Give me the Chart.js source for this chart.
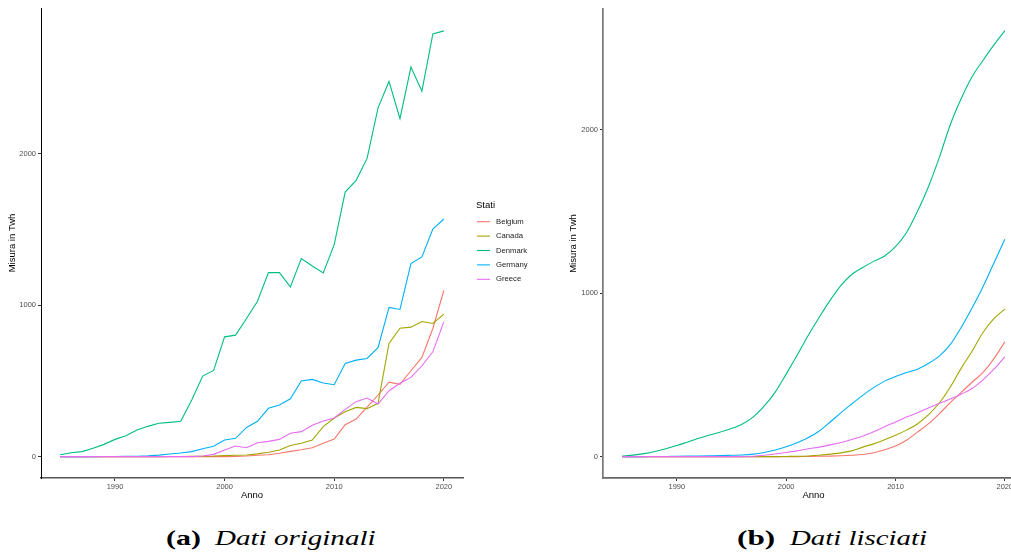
<!DOCTYPE html>
<html>
<head>
<meta charset="utf-8">
<script src="https://cdn.jsdelivr.net/npm/chart.js@4.4.1/dist/chart.umd.min.js"></script>
<style>
  html, body { margin: 0; padding: 0; background: #fff; width: 1011px; height: 556px; overflow: hidden; }
  #sinistra { position: absolute; left: 0; top: 0; }
  #destra { position: absolute; left: 540px; top: 0; }
  .cap { position: absolute; top: 527px; font-family: "Liberation Serif", "DejaVu Serif", serif; font-size: 22px; line-height: 22px;
         color: #000; white-space: nowrap; transform-origin: left top; }
  .cap.b { font-weight: bold; }
  .cap.i { font-style: italic; }
</style>
</head>
<body>
<canvas id="sinistra" width="540" height="510"></canvas>
<canvas id="destra" width="490" height="510"></canvas>

<span class="cap b" style="left:166px; transform:scaleX(1.36)">(a)</span>
<span class="cap i" style="left:215px; transform:scaleX(1.32)">Dati originali</span>
<span class="cap b" style="left:737px; transform:scaleX(1.42)">(b)</span>
<span class="cap i" style="left:790px; transform:scaleX(1.31)">Dati lisciati</span>

<script>
const anni = [1985, 1986, 1987, 1988, 1989, 1990, 1991, 1992, 1993, 1994, 1995, 1996,
  1997, 1998, 1999, 2000, 2001, 2002, 2003, 2004, 2005, 2006, 2007, 2008,
  2009, 2010, 2011, 2012, 2013, 2014, 2015, 2016, 2017, 2018, 2019, 2020];
const stati = ["Belgium", "Canada", "Denmark", "Germany", "Greece"];
const xTicks = [1990, 2000, 2010, 2020];
const yTicks = [0, 1000, 2000];

// dati originali (TWh)
const belgioOrig = [0, 0, 0, 0, 0, 0, 0, 0, 0, 0, 0, 0, 0, 0, 0, 0, 1, 4, 9, 13, 22, 35, 46, 59,
  88, 116, 211, 248, 327, 407, 492, 477, 567, 655, 846, 1097];
const canadaOrig = [0, 0, 0, 0, 0, 0, 0, 0, 0, 0, 1, 1, 2, 3, 4, 7, 9, 11, 18, 29, 44, 73, 88, 110,
  198, 255, 297, 325, 317, 352, 747, 848, 855, 892, 879, 941];
const danimarcaOrig = [13, 26, 33, 55, 81, 114, 138, 176, 200, 220, 226, 233, 374, 532, 569, 791, 802, 912,
  1026, 1215, 1215, 1121, 1308, 1259, 1213, 1400, 1747, 1824, 1969, 2303, 2477, 2231, 2572, 2413, 2791, 2811];
const germaniaOrig = [0, 0, 0, 0, 1, 1, 2, 3, 5, 10, 17, 24, 33, 52, 68, 110, 121, 193, 233, 319, 341, 382,
  499, 510, 486, 475, 615, 637, 648, 719, 985, 972, 1275, 1319, 1503, 1569];
const greciaOrig = [0, 0, 0, 0, 0, 0, 0, 0, 0, 0, 0, 0, 0, 4, 15, 44, 70, 59, 92, 101, 114, 154, 165, 207,
  235, 255, 312, 363, 387, 347, 435, 484, 523, 600, 692, 890];

// dati lisciati (TWh)
const belgioLiscio = [0, 0, 0, 0, 0, 0, 0, 0, 0, 0, 0, 0, 0, 0, 0, 0, 0, 1, 2, 3, 5, 8, 13, 24,
  42, 65, 100, 150, 200, 262, 330, 392, 455, 515, 600, 702];
const canadaLiscio = [0, 0, 0, 0, 0, 0, 0, 0, 0, 0, 0, 0, 0, 0, 0, 1, 2, 4, 8, 15, 23, 35, 58, 78,
  103, 130, 162, 200, 255, 328, 425, 540, 645, 760, 845, 903];
const danimarcaLiscio = [3, 9, 18, 31, 48, 68, 90, 112, 132, 151, 172, 200, 243, 310, 395, 505, 620, 740,
  850, 955, 1047, 1115, 1157, 1195, 1228, 1285, 1370, 1500, 1650, 1830, 2030, 2190, 2325, 2425, 2520, 2608];
const germaniaLiscio = [0, 0, 0, 1, 1, 2, 3, 4, 5, 6, 8, 10, 15, 25, 40, 60, 85, 115, 155, 210, 268, 322,
  375, 422, 462, 490, 515, 535, 570, 615, 685, 790, 910, 1040, 1185, 1330];
const greciaLiscio = [0, 0, 0, 0, 0, 0, 0, 0, 0, 0, 0, 0, 2, 8, 16, 25, 35, 48, 58, 72, 86, 105, 125, 152,
  183, 212, 242, 268, 298, 325, 352, 382, 417, 470, 535, 610];

const colori = ["#F8766D", "#A3A500", "#00BF7D", "#00B0F6", "#E76BF3"];
const font = "Liberation Sans";

function serie(valori, liscio) {
  return valori.map((v, i) => ({
    label: stati[i],
    data: anni.map((a, k) => ({ x: a, y: v[k] })),
    borderColor: colori[i],
    borderWidth: 1.1,
    pointRadius: 0,
    fill: false,
    order: stati.length - i,
    tension: liscio ? 0.4 : 0,
    cubicInterpolationMode: liscio ? "monotone" : "default"
  }));
}

function assi(yMin, yMax, larghezzaY, padTitoloY, bordoX, bordoY) {
  const tickFont = { family: font, size: 7.5 };
  const titoloFont = { family: font, size: 9.5 };
  return {
    x: {
      type: "linear", min: 1983.25, max: 2021.75,
      afterBuildTicks: s => { s.ticks = xTicks.map(v => ({ value: v })); },
      afterFit: s => { s.height = 32; },
      grid: { display: true, drawOnChartArea: false, drawTicks: true, tickLength: 3, color: "#333", lineWidth: 1 },
      border: { display: true, color: bordoX.color, width: bordoX.width },
      ticks: { color: "#4d4d4d", font: tickFont, padding: 1, maxRotation: 0, autoSkip: false, callback: v => String(v) },
      title: { display: true, text: "Anno", color: "#000", font: titoloFont, padding: { top: 0, bottom: 9 } }
    },
    y: {
      type: "linear", min: yMin, max: yMax,
      afterBuildTicks: s => { s.ticks = yTicks.map(v => ({ value: v })); },
      afterFit: s => { s.width = larghezzaY; },
      grid: { display: true, drawOnChartArea: false, drawTicks: true, tickLength: 3, color: "#333", lineWidth: 1 },
      border: { display: true, color: bordoY.color, width: bordoY.width },
      ticks: { color: "#4d4d4d", font: tickFont, padding: 2, autoSkip: false, callback: v => String(v) },
      title: { display: true, text: "Misura in Twh", color: "#000", font: titoloFont, padding: { top: padTitoloY, bottom: 0 } }
    }
  };
}

// legenda a destra del primo grafico
const legendaStati = {
  id: "legendaStati",
  afterDraw(chart) {
    const ctx = chart.ctx;
    ctx.save();
    ctx.textBaseline = "middle";
    ctx.fillStyle = "#000";
    ctx.font = "9.5px " + font;
    ctx.fillText("Stati", 476, 205);
    ctx.font = "7.7px " + font;
    chart.data.datasets.forEach((ds, i) => {
      const y = 221.7 + i * 14.4;
      ctx.strokeStyle = ds.borderColor;
      ctx.lineWidth = 1.1;
      ctx.beginPath();
      ctx.moveTo(477, y);
      ctx.lineTo(490, y);
      ctx.stroke();
      ctx.fillStyle = "#1a1a1a";
      ctx.fillText(ds.label, 496, y);
    });
    ctx.restore();
  }
};

const comuni = {
  responsive: false,
  animation: false,
  plugins: { legend: { display: false }, tooltip: { enabled: false } }
};

new Chart(document.getElementById("sinistra"), {
  type: "line",
  data: { datasets: serie([belgioOrig, canadaOrig, danimarcaOrig, germaniaOrig, greciaOrig], false) },
  options: {
    ...comuni,
    layout: { padding: { top: 8, right: 77, bottom: 0, left: 0 } },
    scales: assi(-141, 2962, 41, 7, { color: "#555", width: 1.5 }, { color: "#000", width: 1 })
  },
  plugins: [legendaStati]
});

new Chart(document.getElementById("destra"), {
  type: "line",
  data: { datasets: serie([belgioLiscio, canadaLiscio, danimarcaLiscio, germaniaLiscio, greciaLiscio], true) },
  options: {
    ...comuni,
    layout: { padding: { top: 9, right: 6, bottom: 0, left: 0 } },
    scales: assi(-131, 2740, 63, 28, { color: "#666", width: 1.7 }, { color: "#777", width: 1.7 })
  }
});
</script>
</body>
</html>
